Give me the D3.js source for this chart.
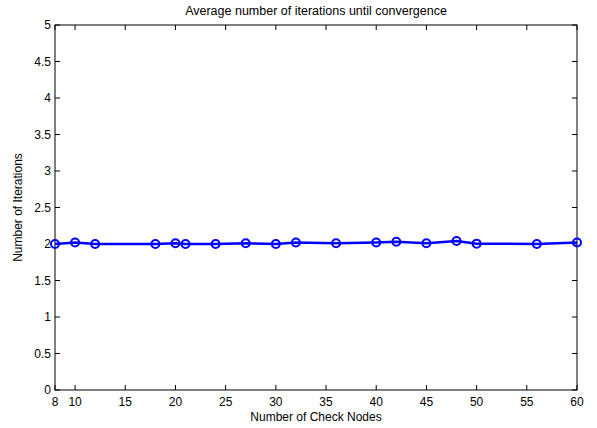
<!DOCTYPE html>
<html>
<head>
<meta charset="utf-8">
<script src="https://cdn.jsdelivr.net/npm/d3@7"></script>
<style>
  body { margin: 0; background: #fff; }
  text { font-family: "Liberation Sans", Arial, sans-serif; font-size: 12px; fill: #000; }
</style>
</head>
<body>
<svg id="chart" width="597" height="428"></svg>
<script>
// check nodes vs average iterations
const checkNodes = [8, 10, 12, 18, 20, 21, 24, 27, 30, 32, 36, 40, 42, 45, 48, 50, 56, 60];
const iterations = [2.0, 2.02, 2.0, 2.0, 2.01, 2.0, 2.0, 2.01, 2.0, 2.02, 2.01, 2.02, 2.03, 2.01, 2.04, 2.005, 2.0, 2.02];
const xTicks = [8, 10, 15, 20, 25, 30, 35, 40, 45, 50, 55, 60];
const yTicks = [0, 0.5, 1, 1.5, 2, 2.5, 3, 3.5, 4, 4.5, 5];

const margin = {top: 25, right: 20, bottom: 38, left: 55};
const width = 597 - margin.left - margin.right,
      height = 428 - margin.top - margin.bottom;

const svg = d3.select('#chart');
const g = svg.append('g').attr('transform', `translate(${margin.left},${margin.top})`);

const x = d3.scaleLinear().domain([8, 60]).range([0, width]);
const y = d3.scaleLinear().domain([0, 5]).range([height, 0]);

// box
g.append('rect')
  .attr('width', width).attr('height', height)
  .attr('fill', 'none').attr('stroke', '#000').attr('stroke-width', 1);

// inward ticks, matlab style
const tickLen = 5;
g.append('g').selectAll('line').data(xTicks).enter().append('line')
  .attr('x1', d => x(d)).attr('x2', d => x(d))
  .attr('y1', height).attr('y2', height - tickLen)
  .attr('stroke', '#000');
g.append('g').selectAll('line').data(xTicks).enter().append('line')
  .attr('x1', d => x(d)).attr('x2', d => x(d))
  .attr('y1', 0).attr('y2', tickLen)
  .attr('stroke', '#000');
g.append('g').selectAll('line').data(yTicks).enter().append('line')
  .attr('y1', d => y(d)).attr('y2', d => y(d))
  .attr('x1', 0).attr('x2', tickLen)
  .attr('stroke', '#000');
g.append('g').selectAll('line').data(yTicks).enter().append('line')
  .attr('y1', d => y(d)).attr('y2', d => y(d))
  .attr('x1', width).attr('x2', width - tickLen)
  .attr('stroke', '#000');

// tick labels
g.append('g').selectAll('text').data(xTicks).enter().append('text')
  .attr('x', d => x(d)).attr('y', height + 16)
  .attr('text-anchor', 'middle')
  .text(d => d);
g.append('g').selectAll('text').data(yTicks).enter().append('text')
  .attr('x', -4).attr('y', d => y(d) + 4)
  .attr('text-anchor', 'end')
  .text(d => d);

// line + markers
const line = d3.line().x((d, i) => x(checkNodes[i])).y(d => y(d));
g.append('path')
  .datum(iterations)
  .attr('d', line)
  .attr('fill', 'none')
  .attr('stroke', '#0000ff')
  .attr('stroke-width', 2.5);

g.append('g').selectAll('circle').data(iterations).enter().append('circle')
  .attr('cx', (d, i) => x(checkNodes[i]))
  .attr('cy', d => y(d))
  .attr('r', 4)
  .attr('fill', 'none')
  .attr('stroke', '#0000ff')
  .attr('stroke-width', 2);

// labels
svg.append('text')
  .attr('x', margin.left + width / 2).attr('y', 15)
  .attr('text-anchor', 'middle')
  .style('font-size', '12.5px')
  .text('Average number of iterations until convergence');
svg.append('text')
  .attr('x', margin.left + width / 2).attr('y', 421)
  .attr('text-anchor', 'middle')
  .text('Number of Check Nodes');
svg.append('text')
  .attr('transform', `translate(22,${margin.top + height / 2}) rotate(-90)`)
  .attr('text-anchor', 'middle')
  .text('Number of Iterations');
</script>
</body>
</html>
